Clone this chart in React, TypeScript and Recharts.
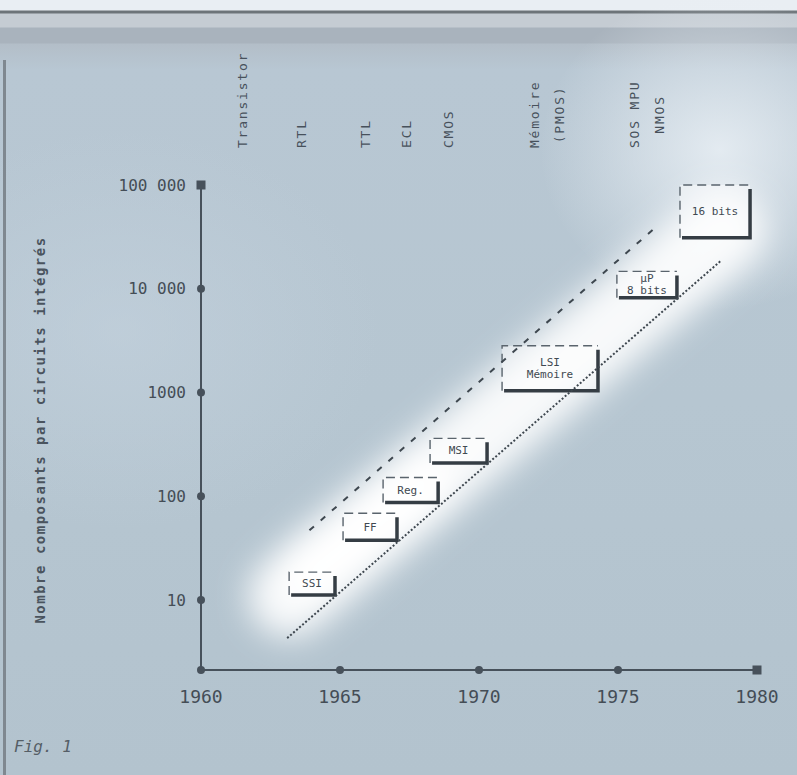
import * as React from 'react';
import {
  ComposedChart,
  Line,
  XAxis,
  YAxis,
  ReferenceArea,
  ReferenceDot
} from 'recharts';

// axis values
const xTicks = [1960, 1965, 1970, 1975, 1980];
const yTicks = [10, 100, 1000, 10000, 100000];
const yTickLabels: Record<number, string> = {
  10: '10',
  100: '100',
  1000: '1000',
  10000: '10 000',
  100000: '100 000'
};
const Y_MIN = 2.12;
const Y_MAX = 100000;

// the two trend lines (year, components per chip)
const lowerTrend = [
  { year: 1963.1, value: 4.3 },
  { year: 1978.7, value: 18600 }
];
const upperTrend = [
  { year: 1963.9, value: 47 },
  { year: 1976.3, value: 38000 }
];
// bright band between the lines: start and end of the glow
const glowFrom = { year: 1963.2, value: 11 };
const glowTo = { year: 1978.8, value: 36000 };

// boxes along the band
const boxYearFrom = [1963.17, 1965.11, 1966.55, 1968.24, 1970.83, 1974.96, 1977.23];
const boxYearTo = [1964.82, 1967.05, 1968.53, 1970.29, 1974.28, 1977.12, 1979.75];
const boxLow = [11.2, 37.8, 87, 210, 1040, 8200, 31000];
const boxHigh = [18.6, 68.6, 152, 362, 2820, 14700, 100000];
const boxLabels = [['SSI'], ['FF'], ['Reg.'], ['MSI'], ['LSI', 'Mémoire'], ['µP', '8 bits'], ['16 bits']];

// technologies written along the top
const techYears = [1961.5, 1963.6, 1965.9, 1967.4, 1968.9, 1972.0, 1975.6];
const techLabels = [
  ['Transistor'],
  ['RTL'],
  ['TTL'],
  ['ECL'],
  ['CMOS'],
  ['Mémoire', '(PMOS)'],
  ['SOS MPU', 'NMOS']
];

const INK = '#47515b';
const MONO = '"DejaVu Sans Mono", monospace';

function GlowShape(props: any) {
  const { x, y, width, height } = props;
  if (x == null || y == null) return null;
  return (
    <g filter="url(#glow)">
      <path
        d={`M${x},${y + height} L${x + width},${y}`}
        stroke="#ffffff"
        strokeOpacity={0.9}
        strokeWidth={84}
        strokeLinecap="round"
        fill="none"
      />
      <path
        d={`M${x + width * 0.05},${y + height * 0.92} L${x + width * 0.3},${y + height * 0.7}`}
        stroke="#ffffff"
        strokeWidth={70}
        strokeLinecap="round"
        fill="none"
      />
    </g>
  );
}

function BoxShape(props: any) {
  const { x, y, width, height, lines } = props;
  if (x == null || y == null) return null;
  const cx = x + width / 2;
  const cy = y + height / 2;
  const lh = 12;
  return (
    <g>
      <rect x={x} y={y} width={width} height={height} fill="#ffffff" fillOpacity={0.45} />
      <path d={`M${x},${y + height} V${y} H${x + width}`} fill="none" stroke="#5a646d" strokeWidth={1.4} strokeDasharray="9 5" />
      <path d={`M${x + 2},${y + height} H${x + width} V${y + 4}`} fill="none" stroke="#353d44" strokeWidth={3.5} />
      {lines.map((t: string, i: number) => (
        <text
          key={i}
          x={cx}
          y={cy + (i - (lines.length - 1) / 2) * lh}
          dy="0.35em"
          textAnchor="middle"
          fontFamily={MONO}
          fontSize={11}
          fill="#3f4951"
        >
          {t}
        </text>
      ))}
    </g>
  );
}

function TechLabel(props: any) {
  const { cx, cy, lines } = props;
  if (cx == null || cy == null) return null;
  const base = cy - 37;
  const charW = 9.6;
  const firstLen = lines[0].length * charW;
  return (
    <g>
      {lines.map((t: string, i: number) => {
        const tx = cx + i * 25;
        const ty = i === 0 ? base : base - firstLen / 2;
        return (
          <text
            key={i}
            x={tx}
            y={ty}
            transform={`rotate(-90 ${tx} ${ty})`}
            textAnchor={i === 0 ? 'start' : 'middle'}
            dy="0.35em"
            fontFamily={MONO}
            fontSize={13}
            letterSpacing={1.8}
            fill={INK}
          >
            {t}
          </text>
        );
      })}
    </g>
  );
}

function SquareMark(props: any) {
  const { cx, cy } = props;
  if (cx == null || cy == null) return null;
  return <rect x={cx - 4.5} y={cy - 4.5} width={9} height={9} fill={INK} />;
}

export default function App() {
  const background = [
    'radial-gradient(ellipse 180px 160px at 720px 150px, rgba(235,241,246,0.85), rgba(235,241,246,0) 100%)',
    'radial-gradient(ellipse 260px 200px at 120px 330px, rgba(196,210,222,0.6), rgba(196,210,222,0) 100%)',
    'linear-gradient(to bottom, #e9eef3 0px, #e9eef3 10px, #6d7479 11px, #6d7479 13px, #c5ccd3 14px, #c5ccd3 27px, #a9b3bd 28px, #a9b3bd 43px, #b3bec8 44px, #b8c7d3 70px, #b6c6d1 400px, #b3c3ce 775px)'
  ].join(', ');

  return (
    <div
      style={{
        position: 'absolute',
        left: 0,
        top: 0,
        width: 797,
        height: 775,
        overflow: 'hidden',
        background
      }}
    >
      <div style={{ position: 'absolute', left: 3, top: 60, width: 3, height: 715, background: '#7f8890' }} />
      <ComposedChart
        width={797}
        height={775}
        margin={{ top: 185, right: 40, left: 111, bottom: 75 }}
      >
        <defs>
          <filter id="glow" x="-50%" y="-50%" width="200%" height="200%">
            <feGaussianBlur stdDeviation="16" />
          </filter>
        </defs>
        <XAxis
          type="number"
          dataKey="year"
          domain={[1960, 1980]}
          ticks={xTicks}
          allowDataOverflow
          height={30}
          tickLine={false}
          tickSize={6}
          tickMargin={14}
          axisLine={{ stroke: INK, strokeWidth: 2 }}
          tick={{ fill: '#444d56', fontFamily: MONO, fontSize: 18 }}
        />
        <YAxis
          type="number"
          scale="log"
          domain={[Y_MIN, Y_MAX]}
          ticks={yTicks}
          allowDataOverflow
          width={90}
          tickLine={false}
          tickSize={6}
          tickMargin={9}
          tickFormatter={(v: number) => yTickLabels[v] ?? String(v)}
          axisLine={{ stroke: INK, strokeWidth: 2 }}
          tick={{ fill: '#444d56', fontFamily: MONO, fontSize: 16 }}
        />
        <ReferenceArea
          x1={glowFrom.year}
          x2={glowTo.year}
          y1={glowFrom.value}
          y2={glowTo.value}
          ifOverflow="visible"
          shape={(p: any) => <GlowShape {...p} />}
        />
        {boxLabels.map((lines, i) => (
          <ReferenceArea
            key={i}
            x1={boxYearFrom[i]}
            x2={boxYearTo[i]}
            y1={boxLow[i]}
            y2={boxHigh[i]}
            ifOverflow="visible"
            shape={(p: any) => <BoxShape {...p} lines={lines} />}
          />
        ))}
        <Line
          data={lowerTrend}
          dataKey="value"
          stroke="#3e474f"
          strokeWidth={2}
          strokeDasharray="2 2"
          dot={false}
          activeDot={false}
          isAnimationActive={false}
        />
        <Line
          data={upperTrend}
          dataKey="value"
          stroke="#3e474f"
          strokeWidth={2}
          strokeDasharray="6 9"
          dot={false}
          activeDot={false}
          isAnimationActive={false}
        />
        {yTicks.slice(0, -1).map((t) => (
          <ReferenceDot key={'y' + t} x={1960} y={t} r={4} fill={INK} stroke="none" ifOverflow="visible" />
        ))}
        <ReferenceDot x={1960} y={Y_MAX} ifOverflow="visible" shape={(p: any) => <SquareMark {...p} />} />
        {xTicks.slice(0, -1).map((t) => (
          <ReferenceDot key={'x' + t} x={t} y={Y_MIN} r={4} fill={INK} stroke="none" ifOverflow="visible" />
        ))}
        <ReferenceDot x={1980} y={Y_MIN} ifOverflow="visible" shape={(p: any) => <SquareMark {...p} />} />
        {techLabels.map((lines, i) => (
          <ReferenceDot
            key={'t' + i}
            x={techYears[i]}
            y={Y_MAX}
            ifOverflow="visible"
            shape={(p: any) => <TechLabel {...p} lines={lines} />}
          />
        ))}
        <text
          x={40}
          y={430}
          transform="rotate(-90 40 430)"
          textAnchor="middle"
          dy="0.35em"
          fontFamily={MONO}
          fontSize={14}
          fontWeight="bold"
          letterSpacing={1.5}
          fill="#4a545e"
        >
          Nombre composants par circuits intégrés
        </text>
        <text x={14} y={752} fontFamily={MONO} fontSize={16} fontStyle="italic" fill="#555e66">
          Fig. 1
        </text>
      </ComposedChart>
    </div>
  );
}
